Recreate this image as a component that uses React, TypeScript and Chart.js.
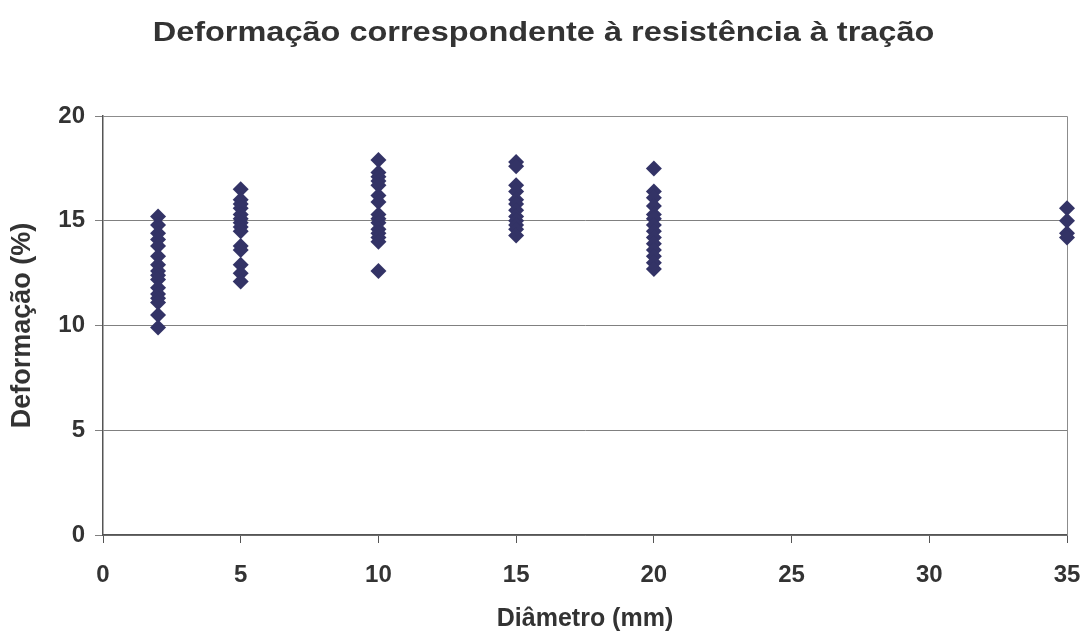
import React, { useEffect, useRef } from "react";
import { Chart, registerables } from "chart.js";

Chart.register(...registerables);

const titleText = "Deformação correspondente à resistência à tração";
const xAxisTitle = "Diâmetro (mm)";
const yAxisTitle = "Deformação (%)";

const diameters = [2, 5, 10, 15, 20, 35];
const d2 = [15.2, 14.8, 14.4, 14.1, 13.8, 13.3, 12.9, 12.6, 12.4, 12.2, 11.8, 11.5, 11.3, 11.1, 10.5, 9.9];
const d5 = [16.5, 16.0, 15.8, 15.6, 15.3, 15.1, 14.9, 14.7, 14.5, 13.8, 13.6, 12.9, 12.5, 12.1];
const d10 = [17.9, 17.3, 17.1, 16.9, 16.7, 16.2, 15.9, 15.3, 15.1, 14.9, 14.6, 14.4, 14.2, 14.0, 12.6];
const d15 = [17.8, 17.6, 16.7, 16.4, 16.0, 15.8, 15.5, 15.2, 15.0, 14.8, 14.6, 14.3];
const d20 = [17.5, 16.4, 16.1, 15.7, 15.3, 15.1, 14.8, 14.5, 14.2, 13.9, 13.6, 13.3, 13.0, 12.7];
const d35 = [15.6, 15.0, 14.4, 14.2];
const groups = [d2, d5, d10, d15, d20, d35];

const xTicks = [0, 5, 10, 15, 20, 25, 30, 35];
const yTicks = [0, 5, 10, 15, 20];

const FONT = "'Liberation Sans', Arial, sans-serif";
const TEXT = "#333333";

const titlePlugin = {
  id: "stretchedTitle",
  afterDraw(chart: any) {
    const { ctx, width } = chart;
    ctx.save();
    ctx.font = `bold 28px ${FONT}`;
    ctx.fillStyle = TEXT;
    ctx.textAlign = "center";
    ctx.textBaseline = "alphabetic";
    ctx.translate(width / 2, 41);
    ctx.scale(1.16, 1);
    ctx.fillText(titleText, 0, 0);
    ctx.restore();
  },
};

const frameBorder = {
  id: "frameBorder",
  beforeDatasetsDraw(chart: any) {
    const { ctx, chartArea } = chart;
    ctx.save();
    ctx.strokeStyle = "#8c8c8c";
    ctx.lineWidth = 1;
    ctx.beginPath();
    ctx.moveTo(chartArea.left, chartArea.top + 0.5);
    ctx.lineTo(chartArea.right + 0.5, chartArea.top + 0.5);
    ctx.lineTo(chartArea.right + 0.5, chartArea.bottom);
    ctx.stroke();
    ctx.restore();
  },
};

export default function App() {
  const ref = useRef<HTMLCanvasElement | null>(null);
  useEffect(() => {
    if (!ref.current) return;
    const points: { x: number; y: number }[] = [];
    groups.forEach((g, i) => g.forEach((v) => points.push({ x: diameters[i], y: v })));
    const chart = new Chart(ref.current, {
      type: "scatter",
      data: {
        datasets: [
          {
            label: "Deformação",
            data: points,
            pointStyle: "rectRot",
            pointRadius: 8,
            pointHoverRadius: 8,
            backgroundColor: "#333366",
            borderColor: "#333366",
            borderWidth: 0,
            clip: false,
          },
        ],
      },
      options: {
        animation: false,
        responsive: false,
        maintainAspectRatio: false,
        layout: { padding: { left: 0, right: 20, top: 116, bottom: 0 } },
        plugins: {
          legend: { display: false },
          tooltip: { enabled: false },
          title: { display: false },
        },
        scales: {
          x: {
            type: "linear",
            min: 0,
            max: 35,
            afterBuildTicks: (s: any) => {
              s.ticks = xTicks.map((v) => ({ value: v }));
            },
            afterFit: (s: any) => {
              s.height = 103;
              s.paddingLeft = 0;
              s.paddingRight = 0;
            },
            ticks: {
              color: TEXT,
              font: { family: FONT, size: 24, weight: "bold" },
              padding: 18,
              maxRotation: 0,
            },
            grid: {
              drawOnChartArea: false,
              drawTicks: true,
              tickLength: 8,
              color: "#555",
            },
            border: { display: true, color: "#555", width: 1.5 },
            title: {
              display: true,
              text: xAxisTitle,
              color: TEXT,
              font: { family: FONT, size: 25, weight: "bold" },
              padding: { top: 0, bottom: 4 },
            },
          },
          y: {
            type: "linear",
            min: 0,
            max: 20,
            afterBuildTicks: (s: any) => {
              s.ticks = yTicks.map((v) => ({ value: v }));
            },
            afterFit: (s: any) => {
              s.width = 103;
              s.paddingTop = 0;
              s.paddingBottom = 0;
            },
            ticks: {
              color: TEXT,
              font: { family: FONT, size: 24, weight: "bold" },
              padding: 10,
            },
            grid: {
              drawOnChartArea: true,
              drawTicks: true,
              tickLength: 8,
              color: "#808080",
            },
            border: { display: true, color: "#555", width: 1.5 },
            title: {
              display: true,
              text: yAxisTitle,
              color: TEXT,
              font: { family: FONT, size: 27, weight: "bold" },
              padding: { top: 6, bottom: 0 },
            },
          },
        },
      },
      plugins: [frameBorder, titlePlugin],
    });
    return () => chart.destroy();
  }, []);
  return (
    <div style={{ position: "absolute", left: 0, top: 0, width: 1087, height: 638, background: "#fff" }}>
      <canvas ref={ref} width={1087} height={638} style={{ width: 1087, height: 638, display: "block" }} />
    </div>
  );
}
